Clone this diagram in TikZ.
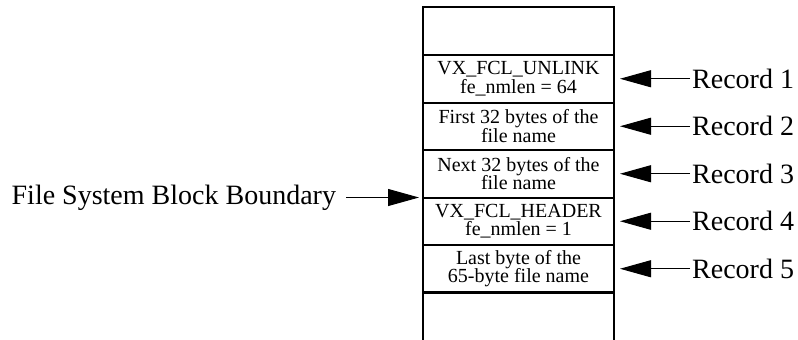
\documentclass[tikz,border=0pt]{standalone}
\usepackage{fontspec}
\setmainfont{Liberation Serif}
\usetikzlibrary{positioning,arrows.meta}
\begin{document}
\begin{tikzpicture}
  [x=1pt,y=-1pt,
   cell/.style={rectangle,draw,line width=2pt,outer sep=0pt,inner sep=0pt,
     minimum width=191pt,minimum height=47.5pt,align=center,
     font=\fontsize{20}{18.5}\selectfont},
   lbl/.style={inner sep=2pt,font=\fontsize{28}{30}\selectfont},
   ptr/.style={line width=1pt,-{Triangle[length=31pt,width=17pt]}}]
  \useasboundingbox (0,0) rectangle (798,340);
  \node[cell,minimum height=48pt] (c0) at (518.5,31) {};
  \node[cell,below=0pt of c0] (c1) {VX\_FCL\_UNLINK\\fe\_nmlen = 64};
  \node[cell,below=0pt of c1] (c2) {First 32 bytes of the\\file name};
  \node[cell,below=0pt of c2] (c3) {Next 32 bytes of the\\file name};
  \node[cell,below=0pt of c3] (c4) {VX\_FCL\_HEADER\\fe\_nmlen = 1};
  \node[cell,below=0pt of c4] (c5) {Last byte of the\\65-byte file name};
  \draw[line width=3pt] (c5.south west) -- (c5.south east);
  \draw[line width=2pt] (c5.south west) -- ++(0,50);
  \draw[line width=2pt] (c5.south east) -- ++(0,50);

  \foreach \i in {1,...,5}{
    \node[lbl,right=76pt of c\i] (r\i) {Record \i};
    \draw[ptr] (r\i) -- ([xshift=6pt]c\i.east);
  }

  \node[lbl,outer sep=8pt,left=77pt of c4.north west] (fsb) {File System Block Boundary};
  \draw[ptr] (fsb) -- ([xshift=-4pt]c4.north west);
\end{tikzpicture}
\end{document}
